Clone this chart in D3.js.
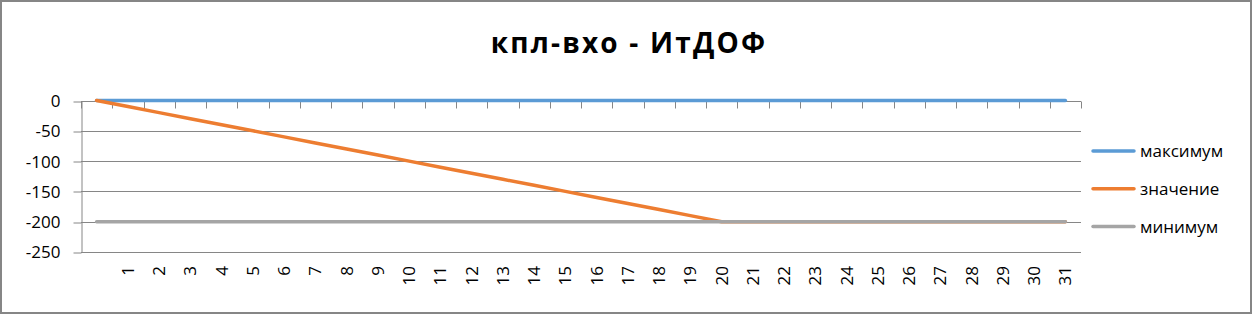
<!DOCTYPE html>
<html>
<head>
<meta charset="utf-8">
<script src="https://cdn.jsdelivr.net/npm/d3@7"></script>
<style>
  body { margin: 0; background: #fff; }
  text { font-family: "Open Sans", "Liberation Sans", sans-serif; fill: #000; }
</style>
</head>
<body>
<div id="chart-area"></div>
<script>
// categories: first slot has no label, then 1..31
const categories = ["", "1", "2", "3", "4", "5", "6", "7", "8", "9", "10",
    "11", "12", "13", "14", "15", "16", "17", "18", "19", "20",
    "21", "22", "23", "24", "25", "26", "27", "28", "29", "30", "31"];

const maxValues = [0, 0, 0, 0, 0, 0, 0, 0, 0, 0, 0, 0, 0, 0, 0, 0,
    0, 0, 0, 0, 0, 0, 0, 0, 0, 0, 0, 0, 0, 0, 0, 0];
const values = [0, -10, -20, -30, -40, -50, -60, -70, -80, -90, -100,
    -110, -120, -130, -140, -150, -160, -170, -180, -190, -200,
    -200, -200, -200, -200, -200, -200, -200, -200, -200, -200, -200];
const minValues = [-200, -200, -200, -200, -200, -200, -200, -200, -200, -200, -200,
    -200, -200, -200, -200, -200, -200, -200, -200, -200, -200,
    -200, -200, -200, -200, -200, -200, -200, -200, -200, -200, -200];

const yTicks = [0, -50, -100, -150, -200, -250];

const seriesNames = ["максимум", "значение", "минимум"];
const seriesColors = ["#5B9BD5", "#ED7D31", "#A5A5A5"];
const seriesData = [maxValues, values, minValues];

const width = 1252, height = 314;
const plot = { left: 81, right: 1081, top: 100.5, bottom: 252 };

const svg = d3.select("#chart-area")
    .append("svg")
        .attr("width", width)
        .attr("height", height);

// outer frame
svg.append("rect")
    .attr("x", 1).attr("y", 1)
    .attr("width", width - 2).attr("height", height - 2)
    .attr("fill", "#fff")
    .attr("stroke", "#868686")
    .attr("stroke-width", 2);

svg.append("text")
    .attr("x", 629)
    .attr("y", 53)
    .attr("text-anchor", "middle")
    .attr("font-size", 28)
    .attr("font-weight", "bold")
    .attr("letter-spacing", 2.2)
    .text("кпл-вхо - ИтДОФ");

const x = d3.scaleBand()
    .domain(categories.map((d, i) => i))
    .range([plot.left, plot.right]);

const y = d3.scaleLinear()
    .domain([-250, 0])
    .range([plot.bottom, plot.top]);

// gridlines
svg.append("g")
    .selectAll("line")
    .data(yTicks)
    .enter()
    .append("line")
        .attr("x1", plot.left)
        .attr("x2", plot.right)
        .attr("y1", (d) => Math.round(y(d)) + 0.5)
        .attr("y2", (d) => Math.round(y(d)) + 0.5)
        .attr("stroke", "#868686")
        .attr("stroke-width", 1);

// y axis
const yAxis = svg.append("g")
    .attr("transform", `translate(${plot.left + 0.5},0)`)
    .call(d3.axisLeft(y).tickValues(yTicks).tickSize(8).tickSizeOuter(0).tickPadding(13)
        .tickFormat((d) => String(d)));
yAxis.select(".domain").attr("stroke", "#868686");
yAxis.selectAll(".tick line").attr("stroke", "#868686")
    .attr("transform", (d) => `translate(0,${Math.round(y(d)) + 0.5 - y(d)})`);
yAxis.selectAll(".tick text")
    .attr("font-size", 17)
    .attr("font-family", "'Open Sans', sans-serif")
    .attr("fill", "#000")
    .attr("dy", "0.35em");

// category axis crosses at 0 (top), ticks pointing down
const xAxis = svg.append("g")
    .attr("transform", `translate(0,${Math.round(y(0)) + 0.5})`);
xAxis.append("line")
    .attr("x1", plot.left).attr("x2", plot.right)
    .attr("stroke", "#868686");
xAxis.selectAll(".tk")
    .data(d3.range(categories.length + 1))
    .enter()
    .append("line")
        .attr("x1", (i) => Math.round(plot.left + i * x.step()) + 0.5)
        .attr("x2", (i) => Math.round(plot.left + i * x.step()) + 0.5)
        .attr("y1", 0)
        .attr("y2", 7)
        .attr("stroke", "#868686");

// rotated category labels below plot
svg.append("g")
    .selectAll("text")
    .data(categories)
    .enter()
    .append("text")
        .attr("transform", (d, i) => `translate(${x(i) + x.bandwidth() / 2 + 6},266) rotate(-90)`)
        .attr("text-anchor", "end")
        .attr("font-size", 17)
        .text((d) => d);

// series lines
const line = d3.line()
    .x((d, i) => x(i) + x.bandwidth() / 2)
    .y((d) => y(d));

svg.append("g")
    .selectAll("path")
    .data(seriesData)
    .enter()
    .append("path")
        .attr("d", (d) => line(d))
        .attr("fill", "none")
        .attr("stroke", (d, i) => seriesColors[i])
        .attr("stroke-width", 3.5)
        .attr("stroke-linejoin", "round")
        .attr("stroke-linecap", "round");

// legend
const legend = svg.append("g")
    .selectAll("g")
    .data(seriesNames)
    .enter()
    .append("g")
        .attr("transform", (d, i) => `translate(1093,${151 + i * 37.8})`);
legend.append("line")
    .attr("x1", 0).attr("x2", 41)
    .attr("stroke", (d, i) => seriesColors[i])
    .attr("stroke-width", 3.5)
    .attr("stroke-linecap", "round");
legend.append("text")
    .attr("x", 47)
    .attr("dy", "0.35em")
    .attr("font-size", 17)
    .text((d) => d);
</script>
</body>
</html>
